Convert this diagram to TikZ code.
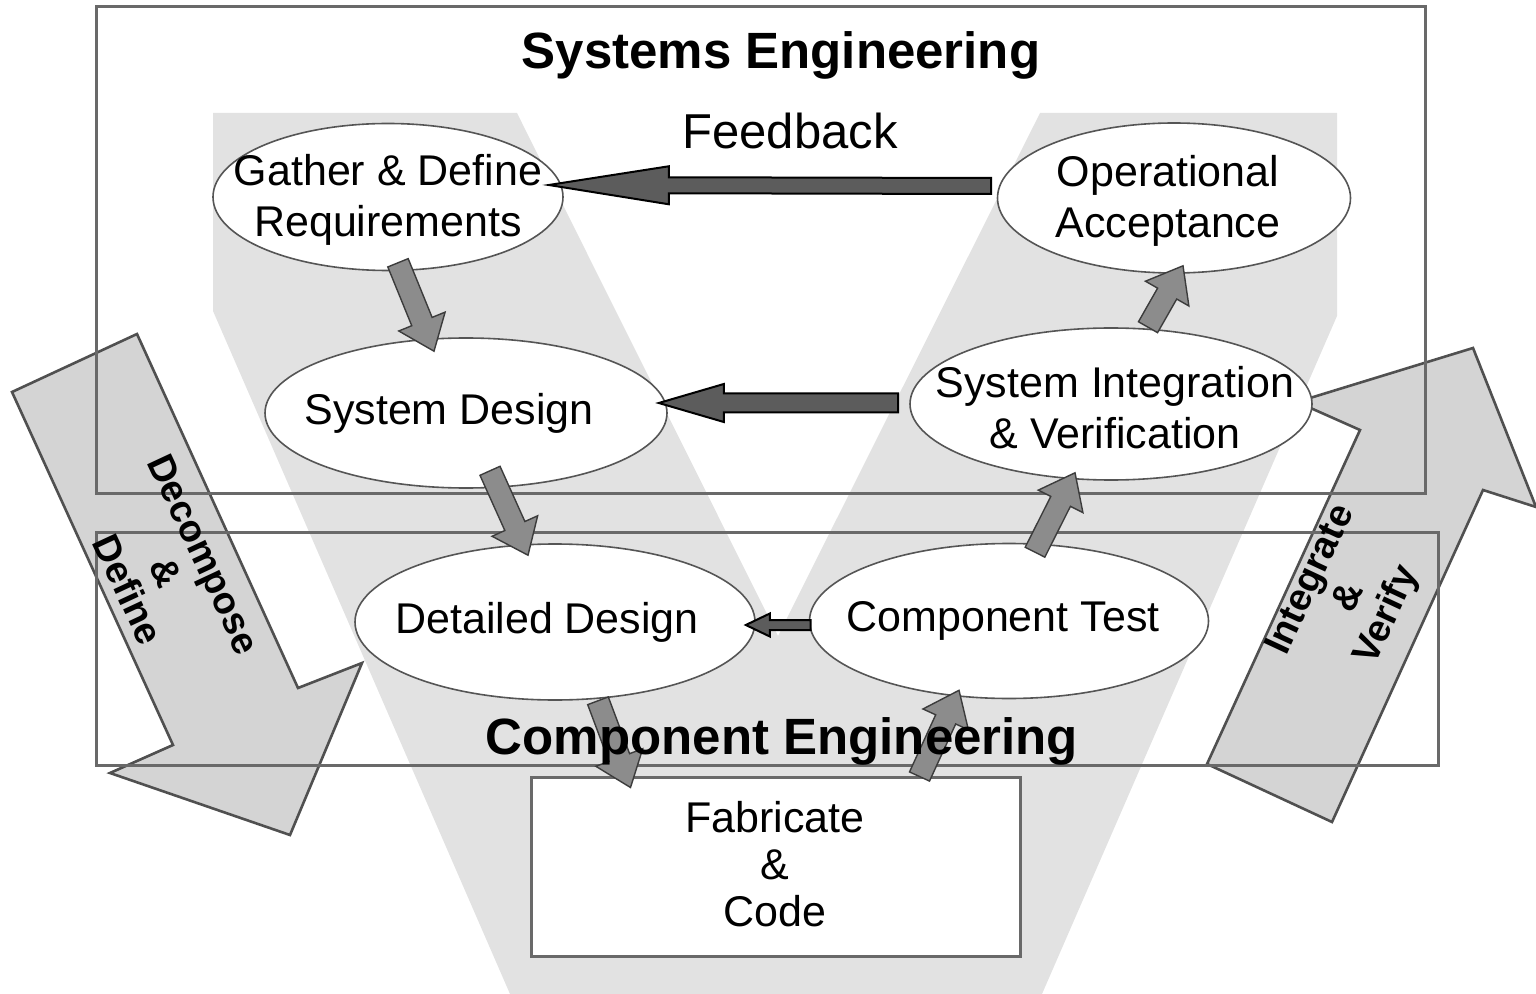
\documentclass[tikz,border=0pt]{standalone}
\usepackage{fontspec}
\setmainfont{Liberation Sans}
\usetikzlibrary{calc,shapes.geometric}

\definecolor{vgray}{RGB}{226,226,226}
\definecolor{bigfill}{RGB}{212,212,212}
\definecolor{bigline}{RGB}{80,80,80}
\definecolor{frameline}{RGB}{105,105,105}
\definecolor{ringline}{RGB}{85,85,85}
\definecolor{fbfill}{RGB}{92,92,92}
\definecolor{stepfill}{RGB}{140,140,140}
\definecolor{stepline}{RGB}{60,60,60}

% block arrow between two named coordinates:
% #1 style, #2 tail, #3 tip, #4 shaft half-width, #5 head half-width, #6 head length
\newcommand\blockarrow[6]{%
  \coordinate (ba-h) at ($(#3)!#6!(#2)$);
  \path[#1] ($(#2)!#4!90:(#3)$) -- ($(ba-h)!#4!90:(#3)$) -- ($(ba-h)!#5!90:(#3)$)
    -- (#3) -- ($(ba-h)!#5!-90:(#3)$) -- ($(ba-h)!#4!-90:(#3)$)
    -- ($(#2)!#4!-90:(#3)$) -- cycle;
}

\begin{document}
\begin{tikzpicture}[x=0.5pt,y=-0.5pt,
  vband/.style={fill=vgray},
  bigarrow/.style={fill=bigfill, draw=bigline, line width=1.3pt, line join=miter},
  framebox/.style={draw=frameline, line width=1.5pt},
  stage/.style={ellipse, draw=ringline, line width=0.8pt, fill=white, inner sep=0pt},
  stagetext/.style={align=center, inner sep=0pt, font=\fontsize{21.5}{25.5}\selectfont},
  fbarrow/.style={fill=fbfill, draw=black, line width=1pt, line join=miter},
  steparrow/.style={fill=stepfill, draw=stepline, line width=0.7pt, line join=miter},
  title/.style={anchor=base, inner sep=0pt, font=\fontsize{25.5}{30}\selectfont\bfseries},
  armtext/.style={align=center, inner sep=0pt, font=\fontsize{19}{21}\selectfont\bfseries}]

\useasboundingbox (0,0) rectangle (1536,994);

% the V band
\path[vband] (213,113) -- (517,113) -- (778,636) -- (1040,113) -- (1337,113)
  -- (1337,316) -- (1042,994) -- (510,994) -- (213,311) -- cycle;

% large side arrows
\path[bigarrow] (12,392) -- (137,334) -- (298,688) -- (362,663) -- (290,835)
  -- (110,773) -- (173,745) -- cycle;
\path[bigarrow] (1207,764) -- (1360,430) -- (1297,402) -- (1473,348) -- (1536,507)
  -- (1483,490) -- (1332,822) -- cycle;

% engineering frames
\draw[framebox] (96,7) rectangle (1425,493);
\draw[framebox] (96,532) rectangle (1438,765);

% fabricate box
\node[draw=frameline, line width=1.5pt, fill=white, minimum width=244.5pt,
  minimum height=89.5pt, inner sep=0pt] (fab) at (775.5,866.5) {};
\node[align=center, inner sep=0pt, font=\fontsize{21.5}{23.5}\selectfont]
  (fab-t) at (775,864) {Fabricate\\\&\\Code};

% stages
\node[stage, minimum width=175pt, minimum height=73.5pt] (gdr) at (388,197) {};
\node[stage, minimum width=201pt, minimum height=75pt] (sd) at (466,413) {};
\node[stage, minimum width=200pt, minimum height=78pt] (dd) at (555,622) {};
\node[stage, minimum width=199.5pt, minimum height=77.5pt] (ct) at (1009,621) {};
\node[stage, minimum width=201pt, minimum height=76pt] (siv) at (1111,404) {};
\node[stage, minimum width=176.5pt, minimum height=75pt] (oa) at (1174,198) {};

\node[stagetext] (gdr-t) at ($(gdr)+(0,3)$) {Gather \& Define\\Requirements};
\node[stagetext] (sd-t) at ($(sd)+(-17,0)$) {System Design};
\node[stagetext] (dd-t) at ($(dd)+(-8,0)$) {Detailed Design};
\node[stagetext] (ct-t) at ($(ct)+(-6,0)$) {Component Test};
\node[stagetext] (siv-t) at ($(siv)+(4,4)$) {System Integration\\\& Verification};
\node[stagetext] (oa-t) at ($(oa)+(-6,3)$) {Operational\\Acceptance};

% feedback arrows
\coordinate (fb1s) at ($(oa.west)+(-5.5,-12)$);
\coordinate (fb1e) at ($(gdr.east)+(-15,-12)$);
\blockarrow{fbarrow}{fb1s}{fb1e}{4pt}{9.5pt}{60pt}
\coordinate (fb2s) at ($(siv.west)+(-11,-1)$);
\coordinate (fb2e) at ($(sd.east)+(-9,-10)$);
\blockarrow{fbarrow}{fb2s}{fb2e}{4.75pt}{9.5pt}{32.5pt}
\coordinate (fb3s) at ($(ct.west)+(2,4)$);
\coordinate (fb3e) at ($(dd.east)+(-10,3)$);
\blockarrow{fbarrow}{fb3s}{fb3e}{2.5pt}{5.75pt}{12pt}

% flow arrows down the left arm and up the right arm
\coordinate (a1s) at ($(gdr.south)+(10,-8.5)$);
\coordinate (a1e) at ($(sd.north)+(-32,14)$);
\blockarrow{steparrow}{a1s}{a1e}{5.5pt}{12.5pt}{16pt}
\coordinate (a2s) at ($(sd.south)+(24,-18)$);
\coordinate (a2e) at ($(dd.north)+(-27,12)$);
\blockarrow{steparrow}{a2s}{a2e}{5.5pt}{12.5pt}{16pt}
\coordinate (a3s) at ($(dd.south)+(43,0)$);
\coordinate (a3e) at ($(fab.north west)+(101,12)$);
\blockarrow{steparrow}{a3s}{a3e}{5.5pt}{12.5pt}{16pt}
\coordinate (a4s) at ($(fab.north east)+(-102,1)$);
\coordinate (a4e) at ($(ct.south)+(-50,-9)$);
\blockarrow{steparrow}{a4s}{a4e}{5.5pt}{12.5pt}{16pt}
\coordinate (a5s) at ($(ct.north)+(26,9.5)$);
\coordinate (a5e) at ($(siv.south)+(-36,-8)$);
\blockarrow{steparrow}{a5s}{a5e}{5.5pt}{12.5pt}{16pt}
\coordinate (a6s) at ($(siv.north)+(37,0)$);
\coordinate (a6e) at ($(oa.south)+(9,-8)$);
\blockarrow{steparrow}{a6s}{a6e}{5.5pt}{12.5pt}{16pt}

% titles
\node[title] (se-t) at (781,69) {Systems Engineering};
\node[title] (ce-t) at (782,754) {Component Engineering};
\node[anchor=base, inner sep=0pt, font=\fontsize{24.5}{29}\selectfont] (fb-t) at (790,149) {Feedback};

% side arrow labels
\node[armtext, rotate=-65] (dec-t) at (166,572) {Decompose\\\&\\Define};
\node[armtext, rotate=65] (int-t) at (1350,598) {Integrate\\\&\\Verify};

\end{tikzpicture}
\end{document}
